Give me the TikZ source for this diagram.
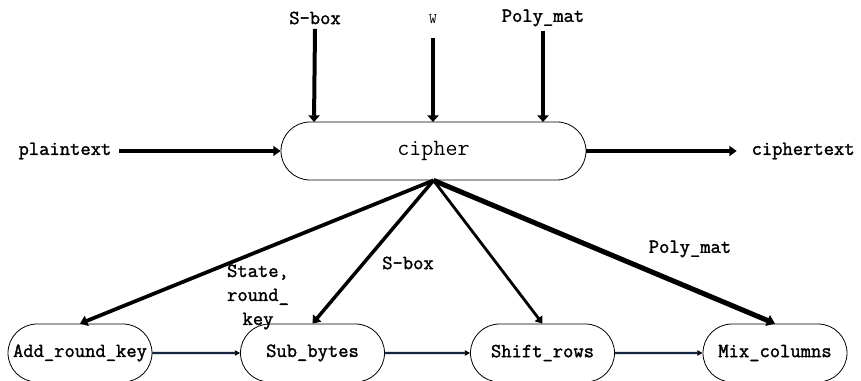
\documentclass[tikz,border=0pt]{standalone}
\usepackage{fontspec}
\setmonofont{Latin Modern Mono}[BoldFont={Latin Modern Mono},BoldFeatures={FakeBold=1.6}]
\usetikzlibrary{shapes.misc,arrows.meta}
\definecolor{navy}{HTML}{1F3A64}
\begin{document}
\begin{tikzpicture}[x=0.75pt,y=-0.75pt,
  stadium/.style={draw,rounded rectangle,line width=0.6pt,minimum height=43.5pt,inner sep=0pt,font=\ttfamily\bfseries\fontsize{15}{16}\selectfont},
  lbl/.style={font=\ttfamily\bfseries\fontsize{15}{18}\selectfont,inner sep=1pt},
  thick arrow/.style={line width=3.4pt,-{Triangle[width=7.5pt,length=5.5pt]}},
  mid arrow/.style={line width=3pt,-{Triangle[width=8.5pt,length=5pt]}},
  flow/.style={draw=black,line width=1.8pt,-{Triangle[width=4pt,length=4pt]},postaction={draw=navy,line width=1pt,-{}, shorten >=3pt}}
]
\useasboundingbox (0,0) rectangle (861,381);
% main node
\node[stadium,minimum width=228.75pt,font=\ttfamily\fontsize{17.5}{18}\selectfont] (cipher) at (433.5,151) {cipher};
% top inputs
\node[lbl] (sbox) at (315,18) {S-box};
\node[lbl,font=\ttfamily\fontsize{11}{12}\selectfont] (w) at (433,19) {W};
\node[lbl] (poly) at (543,18) {Poly\_mat};
\coordinate (sboxin) at (314,122);
\coordinate (win) at (433,122);
\coordinate (polyin) at (543,122);
\coordinate (wtop) at (433,38);
\draw[mid arrow] (sbox.south) ++(0,3) -- (sboxin);
\draw[mid arrow] (wtop) -- (win);
\draw[mid arrow] (poly.south) ++(0,3) -- (polyin);
% plaintext / ciphertext
\node[lbl,anchor=west] (plain) at (17,151) {plaintext};
\node[lbl,anchor=west] (ciph) at (750,151) {ciphertext};
\draw[thick arrow] (plain.east) ++(6,0) -- (cipher.west);
\draw[thick arrow] (cipher.east) -- ([xshift=-10pt]ciph.west);
% bottom row
\node[stadium,minimum width=108pt] (add) at (80,353) {Add\_round\_key};
\node[stadium,minimum width=108pt] (sub) at (312.5,353) {Sub\_bytes};
\node[stadium,minimum width=108pt] (shift) at (542.5,353) {Shift\_rows};
\node[stadium,minimum width=108pt] (mix) at (775,353) {Mix\_columns};
\draw[flow] (add) -- (sub);
\draw[flow] (sub) -- (shift);
\draw[flow] (shift) -- (mix);
% from cipher downward
\draw[line width=2.8pt,-{Triangle[width=8pt,length=5.5pt]}] (cipher.south) -- (add.north);
\draw[line width=2.6pt,-{Triangle[width=8pt,length=5.5pt]}] (cipher.south) -- (sub.north);
\draw[line width=2.1pt,-{Triangle[width=7pt,length=5pt]}] (cipher.south) -- (shift.north);
\draw[line width=3.8pt,-{Triangle[width=8.5pt,length=6pt]}] (cipher.south) -- (mix.north);
% labels
\node[lbl,align=center] (lstate) at (258,297) {State,\\round\_\\key};
\node[lbl] (lsbox) at (408,263) {S-box};
\node[lbl] (lpoly) at (690,249) {Poly\_mat};
\end{tikzpicture}
\end{document}
